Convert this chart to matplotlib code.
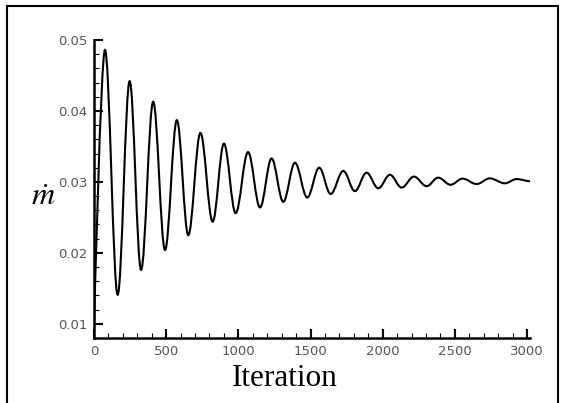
import matplotlib
matplotlib.use("Agg")
import matplotlib.pyplot as plt
import matplotlib.patches as patches
from matplotlib.path import Path
from matplotlib.ticker import MultipleLocator, FormatStrFormatter

# start point, then alternating peaks / troughs
iters = [0, 76, 164, 247, 326, 410, 492, 574, 653, 737, 822, 900, 981,
         1067, 1150, 1230, 1311, 1392, 1477, 1560, 1639, 1727, 1807,
         1888, 1969, 2050, 2131, 2216, 2304, 2384, 2470, 2553, 2650,
         2742, 2846, 2927, 3020]
mdot = [0.0098, 0.0486, 0.0141, 0.0442, 0.0176, 0.0413, 0.0204, 0.0387,
        0.0225, 0.0369, 0.0244, 0.0354, 0.0256, 0.0342, 0.0264, 0.0333,
        0.0272, 0.0327, 0.0278, 0.0320, 0.0283, 0.03155, 0.0287, 0.0313,
        0.0291, 0.0310, 0.0292, 0.03075, 0.0294, 0.0306, 0.0296, 0.03046,
        0.0297, 0.0305, 0.0298, 0.0304, 0.0301]

x_ticks = [0, 500, 1000, 1500, 2000, 2500, 3000]
y_ticks = [0.01, 0.02, 0.03, 0.04, 0.05]

fig = plt.figure(figsize=(5.63, 4.03), dpi=100)
ax = fig.add_axes([94 / 563, 65 / 403, 436 / 563, 298 / 403])

# smooth the extrema with cubic bezier segments (flat tangent at each extremum)
k = 0.363
verts = [(iters[0], mdot[0])]
codes = [Path.MOVETO]
for i in range(1, len(iters)):
    x0, y0 = iters[i - 1], mdot[i - 1]
    x1, y1 = iters[i], mdot[i]
    d = (x1 - x0) * k
    c0 = (x0, y0) if i == 1 else (x0 + d, y0)
    verts += [c0, (x1 - d, y1), (x1, y1)]
    codes += [Path.CURVE4] * 3
ax.add_patch(patches.PathPatch(Path(verts, codes), fill=False,
                               edgecolor="black", linewidth=1.5))

ax.set_xlim(0, 3020)
ax.set_ylim(0.008, 0.05)
ax.set_xticks(x_ticks)
ax.set_yticks(y_ticks)
ax.xaxis.set_minor_locator(MultipleLocator(100))
ax.yaxis.set_minor_locator(MultipleLocator(0.002))
ax.yaxis.set_major_formatter(FormatStrFormatter("%.2f"))

for s in ["top", "right"]:
    ax.spines[s].set_visible(False)
for s in ["left", "bottom"]:
    ax.spines[s].set_linewidth(1.8)
ax.tick_params(which="major", direction="in", length=6.5, width=1.5,
               labelsize=9.5, labelcolor="#555", pad=5)
ax.tick_params(which="minor", direction="in", length=3.5, width=0.8)
for lab in ax.get_xticklabels() + ax.get_yticklabels():
    lab.set_family("DejaVu Sans")

fig.text(285 / 563, 1 - 386 / 403, "Iteration", family="Liberation Serif",
         fontsize=22.5, ha="center", va="baseline")
plt.rcParams["mathtext.fontset"] = "stix"
fig.text(43 / 563, 1 - 205 / 403, r"$\dot{m}$", fontsize=23,
         ha="center", va="baseline")

# outer frame
fig.add_artist(patches.Rectangle((6.5 / 563, -0.1), 551 / 563, 1.1 - 6.5 / 403,
                                 transform=fig.transFigure, fill=False,
                                 edgecolor="black", linewidth=1.5,
                                 clip_on=False))

fig.savefig("out.png", dpi=100)
